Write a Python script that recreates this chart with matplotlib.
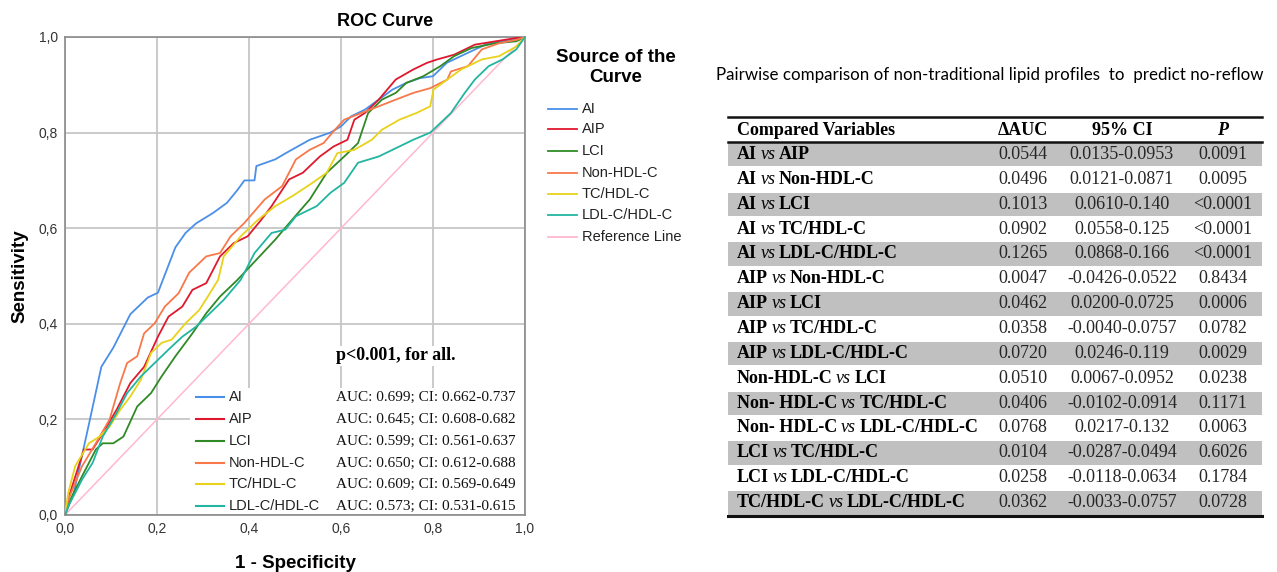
import numpy as np
import matplotlib.pyplot as plt
from matplotlib.lines import Line2D
from matplotlib.patches import Rectangle

W, H = 1277, 572

# ---- ROC curves ----
ai_x = [0, 0.019, 0.052, 0.079, 0.105, 0.142, 0.18, 0.202, 0.24, 0.262, 0.285, 0.322, 0.352, 0.375, 0.39,
        0.412, 0.416, 0.457, 0.48, 0.532, 0.577, 0.6, 0.622, 0.652, 0.682, 0.712, 0.742, 0.772, 0.8, 0.83,
        0.876, 0.921, 0.966, 1.0]
ai_y = [0, 0.046, 0.19, 0.31, 0.35, 0.42, 0.455, 0.465, 0.56, 0.59, 0.61, 0.632, 0.653, 0.68, 0.70,
        0.70, 0.73, 0.744, 0.757, 0.785, 0.80, 0.813, 0.834, 0.848, 0.869, 0.89, 0.904, 0.914, 0.918, 0.946,
        0.967, 0.987, 0.994, 1.0]

aip_x = [0, 0.011, 0.041, 0.06, 0.082, 0.112, 0.142, 0.172, 0.202, 0.225, 0.255, 0.277, 0.307, 0.337,
         0.367, 0.397, 0.427, 0.449, 0.487, 0.517, 0.554, 0.584, 0.614, 0.629, 0.652, 0.682, 0.719, 0.757,
         0.787, 0.809, 0.846, 0.891, 0.936, 0.981, 1.0]
aip_y = [0, 0.046, 0.137, 0.137, 0.171, 0.22, 0.276, 0.31, 0.373, 0.415, 0.436, 0.471, 0.485, 0.541,
         0.569, 0.583, 0.618, 0.646, 0.702, 0.716, 0.75, 0.771, 0.785, 0.827, 0.841, 0.869, 0.911, 0.932,
         0.946, 0.953, 0.963, 0.984, 0.991, 0.998, 1.0]

lci_x = [0, 0.015, 0.037, 0.067, 0.082, 0.105, 0.127, 0.157, 0.187, 0.21, 0.24, 0.277, 0.307, 0.337,
         0.375, 0.42, 0.457, 0.494, 0.532, 0.569, 0.607, 0.637, 0.659, 0.689, 0.719, 0.742, 0.779, 0.816,
         0.846, 0.884, 0.936, 0.981, 1.0]
lci_y = [0, 0.039, 0.081, 0.137, 0.15, 0.15, 0.164, 0.227, 0.255, 0.29, 0.332, 0.38, 0.422, 0.457,
         0.492, 0.538, 0.576, 0.618, 0.66, 0.716, 0.75, 0.778, 0.841, 0.869, 0.883, 0.904, 0.918, 0.939,
         0.96, 0.977, 0.987, 0.991, 1.0]

nonhdl_x = [0, 0.007, 0.037, 0.067, 0.097, 0.12, 0.135, 0.157, 0.172, 0.195, 0.217, 0.247, 0.27, 0.307,
            0.337, 0.36, 0.39, 0.434, 0.472, 0.502, 0.532, 0.562, 0.584, 0.607, 0.644, 0.682, 0.719, 0.757,
            0.794, 0.831, 0.839, 0.876, 0.906, 0.944, 0.981, 1.0]
nonhdl_y = [0, 0.032, 0.102, 0.15, 0.2, 0.276, 0.318, 0.332, 0.38, 0.401, 0.436, 0.464, 0.507, 0.541,
            0.548, 0.583, 0.611, 0.66, 0.688, 0.744, 0.764, 0.778, 0.803, 0.827, 0.841, 0.855, 0.869, 0.883,
            0.893, 0.911, 0.928, 0.939, 0.974, 0.987, 0.994, 1.0]

tchdl_x = [0, 0.007, 0.022, 0.052, 0.075, 0.097, 0.12, 0.142, 0.165, 0.187, 0.21, 0.232, 0.262, 0.292,
           0.315, 0.333, 0.345, 0.382, 0.42, 0.457, 0.494, 0.532, 0.569, 0.592, 0.629, 0.667, 0.689, 0.727,
           0.764, 0.794, 0.801, 0.831, 0.861, 0.906, 0.944, 0.981, 1.0]
tchdl_y = [0, 0.046, 0.102, 0.15, 0.164, 0.185, 0.22, 0.248, 0.283, 0.339, 0.36, 0.367, 0.401, 0.429,
           0.464, 0.492, 0.541, 0.583, 0.618, 0.646, 0.667, 0.691, 0.716, 0.757, 0.764, 0.785, 0.806, 0.827,
           0.841, 0.855, 0.89, 0.911, 0.932, 0.953, 0.96, 0.98, 1.0]

ldlhdl_x = [0, 0.007, 0.037, 0.06, 0.082, 0.112, 0.135, 0.165, 0.195, 0.225, 0.255, 0.285, 0.315, 0.345,
            0.382, 0.412, 0.449, 0.479, 0.502, 0.547, 0.577, 0.607, 0.637, 0.682, 0.712, 0.757, 0.794, 0.816,
            0.839, 0.869, 0.891, 0.921, 0.951, 0.981, 1.0]
ldlhdl_y = [0, 0.018, 0.074, 0.109, 0.164, 0.213, 0.255, 0.29, 0.318, 0.346, 0.373, 0.394, 0.422, 0.45,
            0.492, 0.548, 0.59, 0.597, 0.625, 0.646, 0.674, 0.695, 0.737, 0.75, 0.764, 0.785, 0.80, 0.82,
            0.841, 0.883, 0.911, 0.939, 0.953, 0.974, 1.0]

names = ["AI", "AIP", "LCI", "Non-HDL-C", "TC/HDL-C", "LDL-C/HDL-C"]
colors = ["#4a8fe8", "#e0182e", "#2f8a25", "#f8784a", "#e8d21a", "#22b5a0"]
ref_color = "#ffb8cf"
auc_labels = ["AUC: 0.699; CI: 0.662-0.737", "AUC: 0.645; CI: 0.608-0.682", "AUC: 0.599; CI: 0.561-0.637",
              "AUC: 0.650; CI: 0.612-0.688", "AUC: 0.609; CI: 0.569-0.649", "AUC: 0.573; CI: 0.531-0.615"]
tick_vals = [0.0, 0.2, 0.4, 0.6, 0.8, 1.0]
tick_labels = ["0,0", "0,2", "0,4", "0,6", "0,8", "1,0"]

# ---- pairwise comparison table ----
var_a = ["AI", "AI", "AI", "AI", "AI", "AIP", "AIP", "AIP", "AIP", "Non-HDL-C", "Non- HDL-C", "Non- HDL-C",
         "LCI", "LCI", "TC/HDL-C"]
var_b = ["AIP", "Non-HDL-C", "LCI", "TC/HDL-C", "LDL-C/HDL-C", "Non-HDL-C", "LCI", "TC/HDL-C", "LDL-C/HDL-C",
         "LCI", "TC/HDL-C", "LDL-C/HDL-C", "TC/HDL-C", "LDL-C/HDL-C", "LDL-C/HDL-C"]
d_auc = ["0.0544", "0.0496", "0.1013", "0.0902", "0.1265", "0.0047", "0.0462", "0.0358", "0.0720", "0.0510",
         "0.0406", "0.0768", "0.0104", "0.0258", "0.0362"]
ci95 = ["0.0135-0.0953", "0.0121-0.0871", "0.0610-0.140", "0.0558-0.125", "0.0868-0.166", "-0.0426-0.0522",
        "0.0200-0.0725", "-0.0040-0.0757", "0.0246-0.119", "0.0067-0.0952", "-0.0102-0.0914", "0.0217-0.132",
        "-0.0287-0.0494", "-0.0118-0.0634", "-0.0033-0.0757"]
p_val = ["0.0091", "0.0095", "<0.0001", "<0.0001", "<0.0001", "0.8434", "0.0006", "0.0782", "0.0029", "0.0238",
         "0.1171", "0.0063", "0.6026", "0.1784", "0.0728"]

curves = [(ai_x, ai_y), (aip_x, aip_y), (lci_x, lci_y), (nonhdl_x, nonhdl_y), (tchdl_x, tchdl_y),
          (ldlhdl_x, ldlhdl_y)]

sans = "Liberation Sans"
serif = "Liberation Serif"

fig = plt.figure(figsize=(W / 100, H / 100), dpi=100)

# ROC axes
ax = fig.add_axes([65 / W, 1 - 515 / H, 460 / W, 478 / H])
ax.plot([0, 1], [0, 1], color=ref_color, lw=1.1, zorder=2)
for (cx, cy), c in zip(curves, colors):
    ax.plot(cx, cy, color=c, lw=1.3, zorder=3)
ax.set_xlim(0, 1)
ax.set_ylim(0, 1)
ax.set_xticks(tick_vals)
ax.set_yticks(tick_vals)
ax.set_xticklabels(tick_labels, fontfamily=sans, fontsize=10, color="#333333")
ax.set_yticklabels(tick_labels, fontfamily=sans, fontsize=10, color="#333333")
ax.tick_params(length=0, pad=5)
ax.grid(True, color="#c6c6c6", lw=1.3)
ax.set_axisbelow(True)
for s in ax.spines.values():
    s.set_color("#8a8a8a")
    s.set_linewidth(1.2)
ax.set_xlabel("1 - Specificity", fontfamily=sans, fontsize=13.5, fontweight="bold", labelpad=14)
ax.set_ylabel("Sensitivity", fontfamily=sans, fontsize=13.5, fontweight="bold", labelpad=7)

# inner legend with AUC values
box_x0 = (190 - 65) / 460
box_h = (515 - 389) / 478
ax.add_patch(Rectangle((box_x0, 0.002), 1 - box_x0 - 0.002, box_h, transform=ax.transAxes,
                       facecolor="white", edgecolor="none", zorder=5))
row_y = [397, 419, 441, 463, 484, 506]
for name, c, lab, ry in zip(names, colors, auc_labels, row_y):
    yy = (515 - ry) / 478
    ax.add_line(Line2D([(196 - 65) / 460, (224 - 65) / 460], [yy, yy], transform=ax.transAxes,
                       color=c, lw=1.5, zorder=6))
    ax.text((229 - 65) / 460, yy, name, transform=ax.transAxes, fontfamily=sans, fontsize=10.5,
            va="center", ha="left", color="#222222", zorder=6)
    ax.text((336 - 65) / 460, yy, lab, transform=ax.transAxes, fontfamily=serif, fontsize=11,
            va="center", ha="left", color="#111111", zorder=6)
ax.text((336 - 65) / 460, (515 - 356) / 478, "p<0.001, for all.", transform=ax.transAxes, fontfamily=serif,
        fontsize=13, fontweight="bold", va="center", ha="left", zorder=6,
        bbox=dict(facecolor="white", edgecolor="none", pad=1))

# overlay axes in pixel coordinates for everything else
ov = fig.add_axes([0, 0, 1, 1], facecolor="none")
ov.set_xlim(0, W)
ov.set_ylim(H, 0)
ov.set_axis_off()

ov.text(385, 21, "ROC Curve", fontfamily=sans, fontsize=13, fontweight="bold", ha="center", va="center")

# outer legend
ov.text(616, 57, "Source of the", fontfamily=sans, fontsize=13.5, fontweight="bold", ha="center", va="center")
ov.text(616, 77, "Curve", fontfamily=sans, fontsize=13.5, fontweight="bold", ha="center", va="center")
leg_y = [109, 129, 151, 173, 194, 215, 237]
for name, c, ly in zip(names + ["Reference Line"], colors + [ref_color], leg_y):
    ov.plot([548, 577], [ly, ly], color=c, lw=1.3)
    ov.text(582, ly, name, fontfamily=sans, fontsize=10.5, ha="left", va="center", color="#222222")

# table
ov.text(716, 75, "Pairwise comparison of non-traditional lipid profiles  to  predict no-reflow",
        fontfamily="Lato", fontsize=12.2, ha="left", va="center", color="#000000")

t_left, t_right = 728, 1262
top, head_bot = 117, 142
row_h = (515 - head_bot) / 15
col_auc, col_ci, col_p = 1023, 1122, 1223
fs = 13

for i in range(15):
    y0 = head_bot + i * row_h
    if i % 2 == 0:
        ov.add_patch(Rectangle((t_left, y0 + 1), t_right - t_left, row_h - 1.5, facecolor="#c0c0c0",
                               edgecolor="none"))
ov.plot([t_left, t_right], [top, top], color="#111111", lw=1.8)
ov.plot([t_left, t_right], [head_bot, head_bot], color="#111111", lw=1.8)
ov.plot([t_left, t_right], [516, 516], color="#111111", lw=2.2)

hy = (top + head_bot) / 2 + 1
ov.text(737, hy, "Compared Variables", fontfamily=serif, fontsize=fs, fontweight="bold", ha="left", va="center")
ov.text(col_auc, hy, "\u0394AUC", fontfamily=serif, fontsize=fs, fontweight="bold", ha="center", va="center")
ov.text(col_ci, hy, "95% CI", fontfamily=serif, fontsize=fs, fontweight="bold", ha="center", va="center")
ov.text(col_p, hy, "P", fontfamily=serif, fontsize=fs, fontweight="bold", style="italic", ha="center",
        va="center")

for i in range(15):
    yc = head_bot + (i + 0.5) * row_h
    t1 = ov.text(737, yc, var_a[i], fontfamily=serif, fontsize=fs, fontweight="bold", ha="left", va="center")
    t2 = ov.annotate("vs", xy=(1, 0), xycoords=t1, xytext=(2.5, 0), textcoords="offset points",
                     fontfamily=serif, fontsize=fs, style="italic", ha="left", va="bottom")
    ov.annotate(var_b[i], xy=(1, 0), xycoords=t2, xytext=(2.5, 0), textcoords="offset points",
                fontfamily=serif, fontsize=fs, fontweight="bold", ha="left", va="bottom")
    ov.text(col_auc, yc, d_auc[i], fontfamily=serif, fontsize=fs, ha="center", va="center", color="#262626")
    ov.text(col_ci, yc, ci95[i], fontfamily=serif, fontsize=fs, ha="center", va="center", color="#262626")
    ov.text(col_p, yc, p_val[i], fontfamily=serif, fontsize=fs, ha="center", va="center", color="#262626")

fig.savefig("out.png", dpi=100)
